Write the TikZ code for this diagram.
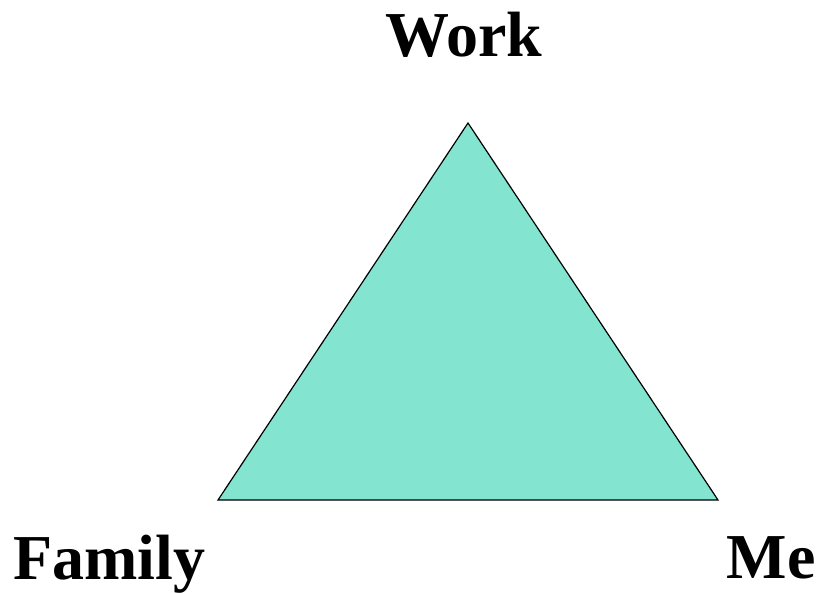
\documentclass[tikz,border=0pt]{standalone}
\usepackage{fontspec}
\setmainfont{Liberation Serif}
\definecolor{tri}{HTML}{83E5D0}
\begin{document}
\begin{tikzpicture}[x=1pt,y=-1pt,
  lbl/.style={font=\fontsize{64}{72}\selectfont\bfseries, inner sep=0pt, anchor=base}]
\useasboundingbox (0,0) rectangle (821,593);
\coordinate (top) at (468,123);
\coordinate (bl) at (218,500);
\coordinate (br) at (718,500);
\filldraw[fill=tri, draw=black, line width=1.2pt, line join=miter] (top) -- (bl) -- (br) -- cycle;
\node[lbl] (work) at (464,57) {Work};
\node[lbl] (family) at (109,579) {Family};
\node[lbl] (me) at (771,578) {Me};
\end{tikzpicture}
\end{document}
